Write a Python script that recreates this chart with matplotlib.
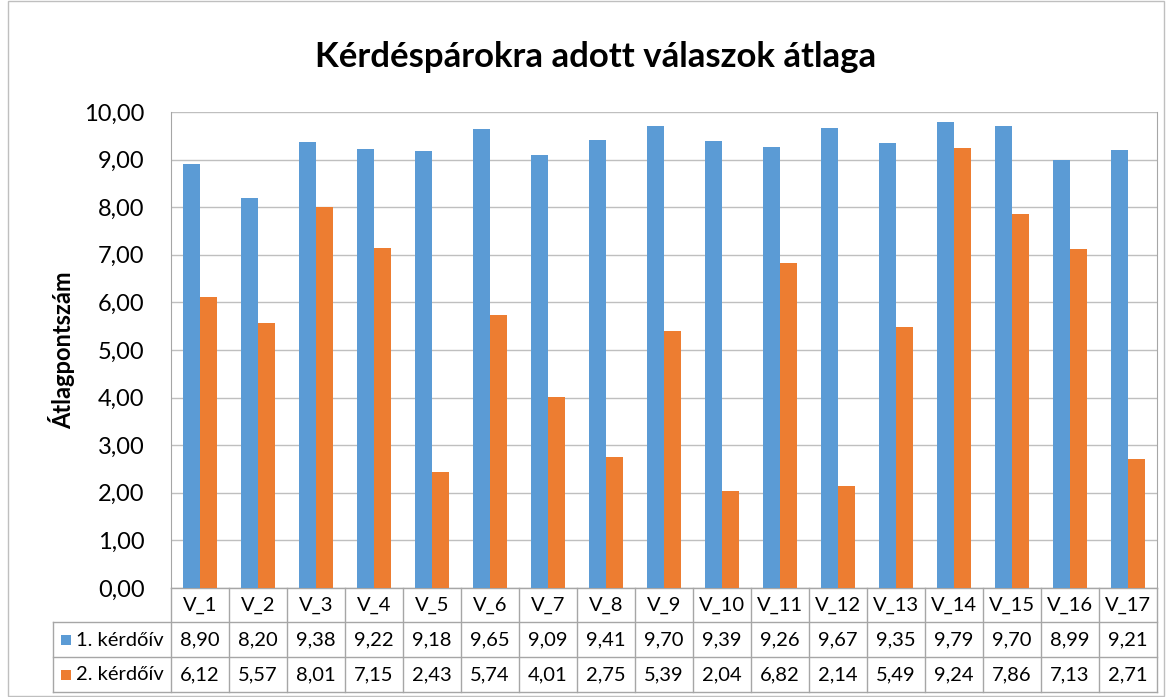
import matplotlib.pyplot as plt
import numpy as np
from matplotlib.patches import Rectangle
from matplotlib.transforms import blended_transform_factory

plt.rcParams['font.family'] = ['Lato', 'DejaVu Sans']

categories = ["V_%d" % i for i in range(1, 18)]
series_names = ["1. kérdőív", "2. kérdőív"]
survey1 = [8.90, 8.20, 9.38, 9.22, 9.18, 9.65, 9.09, 9.41, 9.70, 9.39, 9.26, 9.67, 9.35, 9.79, 9.70, 8.99, 9.21]
survey2 = [6.12, 5.57, 8.01, 7.15, 2.43, 5.74, 4.01, 2.75, 5.39, 2.04, 6.82, 2.14, 5.49, 9.24, 7.86, 7.13, 2.71]
colors = ["#5B9BD5", "#ED7D31"]

W, H = 1171, 697
fig = plt.figure(figsize=(W / 100, H / 100), dpi=100)
fx = lambda px: px / W
fy = lambda py: 1 - py / H
fmt = lambda v: ("%.2f" % v).replace(".", ",")

ax = fig.add_axes([fx(171), fy(588), fx(1157) - fx(171), fy(112) - fy(588)])

x = np.arange(len(categories))
bw = 0.29
ax.bar(x - bw / 2, survey1, bw, color=colors[0], zorder=3)
ax.bar(x + bw / 2, survey2, bw, color=colors[1], zorder=3)

ax.set_xlim(-0.5, len(categories) - 0.5)
ax.set_ylim(0, 10)
ax.set_yticks(np.arange(0, 11, 1))
ax.yaxis.set_major_formatter(plt.FuncFormatter(lambda v, p: fmt(v)))
ax.tick_params(axis="y", length=0, pad=19, labelsize=17)
ax.set_xticks([])
ax.grid(axis="y", color="#BFBFBF", linewidth=1, zorder=0)
for s in ["top", "bottom"]:
    ax.spines[s].set_visible(False)
for s in ["left", "right"]:
    ax.spines[s].set_color("#A6A6A6")

fig.text(fx(62), fy(350), "Átlagpontszám", rotation=90, fontsize=17, fontweight="bold",
         ha="center", va="center")

fig.text(fx(596), fy(57), "Kérdéspárokra adott válaszok átlaga", fontsize=25,
         fontweight="bold", ha="center", va="center")

# data table
tr = blended_transform_factory(ax.transData, fig.transFigure)
lc = "#A6A6A6"
rows_y = [588, 622, 657, 692]
xl, xr = -0.5, len(categories) - 0.5
ax.plot([xl, xr], [fy(588)] * 2, color=lc, lw=1, transform=tr, clip_on=False)
for ry in rows_y[1:]:
    fig.add_artist(plt.Line2D([fx(53), fx(1157)], [fy(ry)] * 2, color=lc, lw=1))
for k in range(len(categories) + 1):
    ax.plot([k - 0.5] * 2, [fy(588), fy(692)], color=lc, lw=1, transform=tr, clip_on=False)
fig.add_artist(plt.Line2D([fx(53)] * 2, [fy(622), fy(692)], color=lc, lw=1))

for i, c in enumerate(categories):
    ax.text(i, fy(605), c, transform=tr, ha="center", va="center", fontsize=14.5)
    ax.text(i, fy(640), fmt(survey1[i]), transform=tr, ha="center", va="center", fontsize=14.5)
    ax.text(i, fy(675), fmt(survey2[i]), transform=tr, ha="center", va="center", fontsize=14.5)

for j, (name, col) in enumerate(zip(series_names, colors)):
    cy = 640 + 35 * j
    fig.add_artist(Rectangle((fx(61), fy(cy + 5)), fx(10), fy(0) - fy(10),
                             facecolor=col, edgecolor="none"))
    fig.text(fx(76), fy(cy), name, fontsize=14.5, ha="left", va="center")

# chart border
fig.add_artist(Rectangle((fx(8), fy(696)), fx(1164) - fx(8), fy(1) - fy(696),
                         fill=False, edgecolor="#BFBFBF", lw=1))

fig.savefig("out.png", dpi=100)
